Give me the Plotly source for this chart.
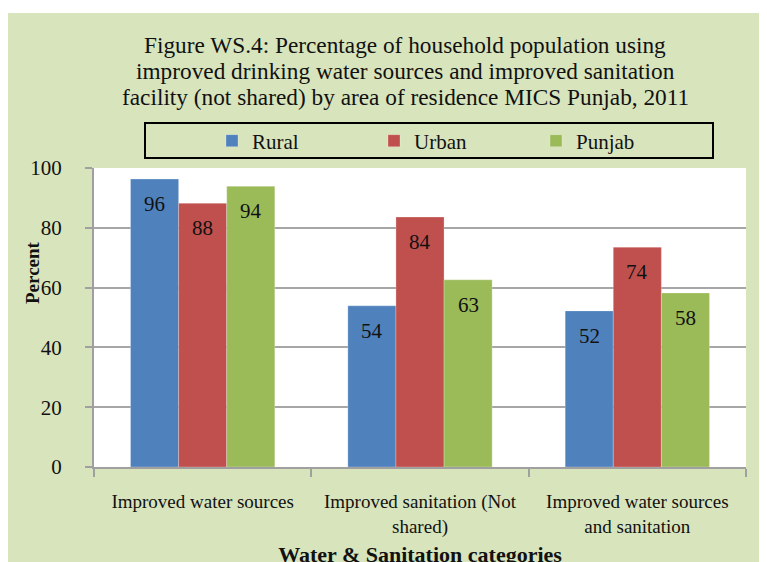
import plotly.graph_objects as go

categories = ["Improved water sources", "Improved sanitation (Not<br>shared)", "Improved water sources<br>and sanitation"]
series_names = ["Rural", "Urban", "Punjab"]
rural = [96.3, 53.9, 52.2]
urban = [88.2, 83.6, 73.5]
punjab = [93.9, 62.6, 58.2]
colors = ["#4F81BD", "#C0504D", "#9BBB59"]
y_ticks = [0, 20, 40, 60, 80, 100]
title_lines = [
    "Figure WS.4: Percentage of household population using",
    "improved drinking water sources and improved sanitation",
    "facility (not shared) by area of residence MICS Punjab, 2011",
]

FONT = "Liberation Serif"
series = [rural, urban, punjab]

OFF = 8  # page body margin offset
W, H = 767, 562
# plot area in figure pixels (reference coords minus page offset)
L = 94 - OFF
T = 168 - OFF
R = W - (746 - OFF)
B = H - (467 - OFF)
PW, PH = W - L - R, H - T - B

def px_x(x_ref):
    return (x_ref - OFF - L) / PW

def px_y(y_ref):
    return (H - B - (y_ref - OFF)) / PH

fig = go.Figure()
for name, vals, col in zip(series_names, series, colors):
    fig.add_trace(go.Bar(
        name=name, x=categories, y=vals,
        marker=dict(color=col, line=dict(color="rgba(255,255,255,0.5)", width=0.5)),
    ))

bar_w = (1 - 0.336) / 3
annotations = []
for si, vals in enumerate(series):
    for ci, v in enumerate(vals):
        annotations.append(dict(
            x=ci + (si - 1) * bar_w, y=v, xref="x", yref="y",
            text=f"{v:.0f}", showarrow=False, yshift=-25,
            font=dict(family=FONT, size=21, color="#111111"),
        ))

for i, line in enumerate(title_lines):
    annotations.append(dict(
        x=px_x(405), y=px_y(45 + 26 * i), xref="paper", yref="paper", showarrow=False,
        text=line, font=dict(family=FONT, size=23.3, color="#111111"),
        yanchor="middle", xanchor="center",
    ))

annotations.append(dict(
    x=px_x(32), y=px_y(272), xref="paper", yref="paper", showarrow=False,
    text="<b>Percent</b>", textangle=-90,
    font=dict(family=FONT, size=19, color="#111111"),
    xanchor="center", yanchor="middle",
))

fig.update_layout(
    width=W, height=H,
    margin=dict(l=L, r=R, t=T, b=B, autoexpand=False),
    paper_bgcolor="#D8E4BC", plot_bgcolor="white",
    barmode="group", bargap=0.336, bargroupgap=0,
    showlegend=True,
    legend=dict(orientation="h", x=px_x(212), y=px_y(141), xanchor="left", yanchor="middle",
                bgcolor="rgba(0,0,0,0)", entrywidth=117, entrywidthmode="pixels",
                font=dict(family=FONT, size=21, color="#111111"), traceorder="normal"),
    font=dict(family=FONT, color="#111111"),
    annotations=annotations,
    shapes=[
        dict(type="rect", xref="paper", yref="paper", x0=px_x(145), x1=px_x(713), y0=px_y(158), y1=px_y(123),
             line=dict(color="black", width=2), fillcolor="rgba(0,0,0,0)"),
        dict(type="rect", xref="paper", yref="paper", x0=px_x(-20), x1=px_x(800), y0=px_y(13), y1=px_y(-20),
             line=dict(width=0), fillcolor="white", layer="above"),
    ],
)
fig.update_xaxes(
    type="category", range=[-0.5, 2.5], showline=True, linecolor="#A0A0A0", linewidth=2,
    ticks="outside", tickson="boundaries", ticklen=8, tickcolor="#A0A0A0", tickwidth=2,
    tickfont=dict(family=FONT, size=19, color="#111111"), ticklabelstandoff=16,
    title=dict(text="<b>Water & Sanitation categories</b>", font=dict(family=FONT, size=22, color="#111111"), standoff=10),
    showgrid=False,
)
fig.update_yaxes(
    range=[0, 100], tickvals=y_ticks, showline=True, linecolor="#A0A0A0", linewidth=2,
    ticks="outside", ticklen=7, tickcolor="#A0A0A0", tickwidth=2,
    gridcolor="#A6A6A6", gridwidth=1.5, ticklabelstandoff=19,
    tickfont=dict(family=FONT, size=21, color="#111111"),
    zeroline=False,
)
fig.write_html("out.html")
